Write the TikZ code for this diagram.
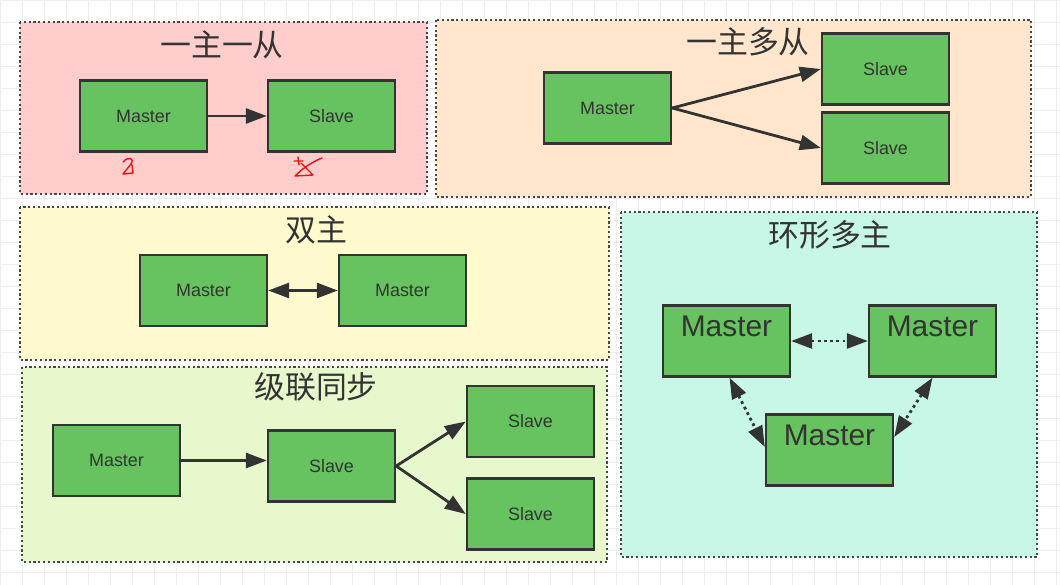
\documentclass[tikz,border=0pt]{standalone}
\usepackage{fontspec}
\setsansfont{Liberation Sans}
\newfontfamily\cjkfont{Noto Sans CJK SC}
\usetikzlibrary{arrows.meta,positioning}
\definecolor{BoxGreen}{HTML}{66C35F}
\definecolor{LineGray}{HTML}{333333}
\definecolor{PinkBg}{HTML}{FFCECC}
\definecolor{PeachBg}{HTML}{FFE6CC}
\definecolor{YellowBg}{HTML}{FFFBCF}
\definecolor{LimeBg}{HTML}{E8F8CD}
\definecolor{MintBg}{HTML}{C7F7E6}
\definecolor{InkRed}{HTML}{F01010}

\begin{document}
\begin{tikzpicture}[
  x=1bp, y=-1bp,
  panel/.style={draw=LineGray!90, line width=2.4bp, dash pattern=on 2.2bp off 2.6bp},
  box/.style={draw=LineGray, line width=2.4bp, fill=BoxGreen, text=LineGray,
    minimum width=127bp, minimum height=71bp, font=\sffamily\fontsize{18}{21}\selectfont},
  bigbox/.style={box, minimum height=0pt, inner sep=4bp, text height=27bp, text depth=36bp,
    font=\sffamily\fontsize{30}{34}\selectfont},
  title/.style={text=LineGray, font=\cjkfont\fontsize{31}{34}\selectfont},
  arrow/.style={-{Triangle[length=21bp,width=15bp]}, line width=2.8bp, draw=LineGray},
  dualarrow/.style={arrow, {Triangle[length=21bp,width=15bp]}-{Triangle[length=21bp,width=15bp]}},
  ringarrow/.style={dualarrow, dash pattern=on 2.8bp off 3.4bp},
  scribble/.style={draw=InkRed, line width=1.4bp, line cap=round, line join=round}
]
  \useasboundingbox (0,0) rectangle (1060,585);
  \fill[white] (0,0) rectangle (1060,585);
  \draw[gray!14, step=22bp] (0,0) grid (1060,585);

  % panels
  \draw[panel, fill=PinkBg] (20,22) rectangle (427,194);
  \draw[panel, fill=PeachBg] (436,20) rectangle (1031,197);
  \draw[panel, fill=YellowBg] (20,207) rectangle (609,360);
  \draw[panel, fill=LimeBg] (22,367) rectangle (607,562);
  \draw[panel, fill=MintBg] (621,212) rectangle (1037,557);

  % one master, one slave
  \node[title] (oneone) at (222,45) {一主一从};
  \node[box] (m1) at (143.5,116) {Master};
  \node[box] (s1) at (331.5,116) {Slave};
  \draw[arrow] (m1) -- (s1);
  \draw[scribble] (123,162) .. controls (128,156) and (135,158) .. (131,164) -- (123,174) -- (133,173) -- (132,165);
  \draw[scribble] (298,157) -- (299,165) (294,161) -- (303,161);
  \draw[scribble] (301,163) -- (313,175) -- (295,176) .. controls (303,168) and (312,162) .. (322,158);

  % one master, many slaves
  \node[title] (onemany) at (748,42) {一主多从};
  \node[box] (m2) at (607.5,108) {Master};
  \node[box] (s2a) at (885.5,69) {Slave};
  \node[box] (s2b) at (885.5,148) {Slave};
  \draw[arrow] (m2.east) -- (s2a.west);
  \draw[arrow] (m2.east) -- (s2b.west);

  % dual master
  \node[title] (dual) at (316,230) {双主};
  \node[box] (m3a) at (203.5,290.5) {Master};
  \node[box] (m3b) at (402.5,290.5) {Master};
  \draw[dualarrow] (m3a) -- (m3b);

  % cascade
  \node[title] (cascade) at (316,387) {级联同步};
  \node[box] (m4) at (116.5,460.5) {Master};
  \node[box] (s4) at (331.5,466) {Slave};
  \node[box] (s4a) at (530.5,421.5) {Slave};
  \node[box] (s4b) at (530.5,514) {Slave};
  \draw[arrow] (m4.east) -- (m4.east -| s4.west);
  \draw[arrow] (s4.east) -- (s4a.west);
  \draw[arrow] (s4.east) -- (s4b.west);

  % ring of masters
  \node[title] (ring) at (830,235) {环形多主};
  \node[bigbox] (r1) at (726.5,341) {Master};
  \node[bigbox] (r2) at (932.5,341) {Master};
  \node[bigbox] (r3) at (829.5,450) {Master};
  \draw[ringarrow] (r1.east) -- (r2.west);
  \draw[ringarrow] ([xshift=3bp]r1.south) -- ([yshift=3bp]r3.west);
  \draw[ringarrow] (r2.south) -- ([yshift=13bp]r3.east);
\end{tikzpicture}
\end{document}
